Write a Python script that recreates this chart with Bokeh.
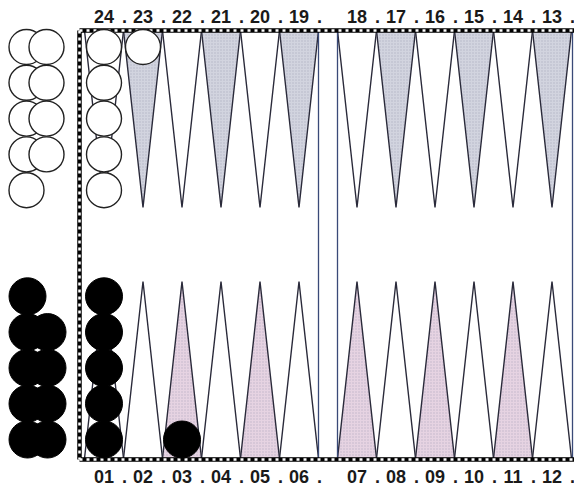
from bokeh.plotting import figure
from bokeh.models import Range1d
from bokeh.core.properties import value
from bokeh.embed import file_html
from bokeh.resources import INLINE

# ---- data ----
top_points = [24, 23, 22, 21, 20, 19, 18, 17, 16, 15, 14, 13]
bottom_points = [1, 2, 3, 4, 5, 6, 7, 8, 9, 10, 11, 12]
top_labels = ["24", "23", "22", "21", "20", "19", "18", "17", "16", "15", "14", "13"]
bottom_labels = ["01", "02", "03", "04", "05", "06", "07", "08", "09", "10", "11", "12"]
white_on_points = {24: 5, 23: 1}
black_on_points = {1: 5, 3: 1}
white_off_columns = [5, 4]
black_off_columns = [5, 4]
shaded_points = [23, 21, 19, 17, 15, 13, 3, 5, 7, 9, 11]

# ---- layout ----
W = 39.0
LEFT0 = 84.0
BAR0, BAR1 = 318.0, 337.0
TOP_BASE, TOP_APEX = 30.0, 207.0
BOT_BASE, BOT_APEX = 458.0, 281.0
R = 17.5
RB = 18.5
STEP = 35.8


def slot_left(i):
    return LEFT0 + i * W if i < 6 else BAR1 + (i - 6) * W


def point_slot(n):
    if n >= 13:
        return 24 - n
    return n - 1


def point_center(n):
    return slot_left(point_slot(n)) + W / 2


p = figure(width=574, height=486, x_range=Range1d(0, 574), y_range=Range1d(486, 0),
           output_backend="svg", toolbar_location=None, min_border=0,
           x_axis_type=None, y_axis_type=None)
p.grid.visible = False
p.outline_line_color = None
p.background_fill_color = "white"

# triangles
for row, base, apex, shade in ((top_points, TOP_BASE, TOP_APEX, "#d2d4df"),
                               (bottom_points, BOT_BASE, BOT_APEX, "#e6d3e2")):
    for shaded in (False, True):
        xs, ys = [], []
        for n in row:
            if (n in shaded_points) != shaded:
                continue
            l = slot_left(point_slot(n))
            xs.append([l, l + W / 2, l + W])
            ys.append([base, apex, base])
        if shaded:
            p.patches(xs, ys, fill_color=shade, line_color="#2a2a3a", line_width=1.4,
                      hatch_pattern="dot", hatch_scale=3, hatch_color="#8a8aa0", hatch_alpha=0.4)
        else:
            p.patches(xs, ys, fill_color="white", line_color="#2a2a3a", line_width=1.4)

# bar and right edge
p.segment(x0=[BAR0, BAR1, 572], y0=[TOP_BASE] * 3, x1=[BAR0, BAR1, 572], y1=[BOT_BASE + 1] * 3,
          line_color="#3a4a78", line_width=1.3)

# dashed border
bx0 = [79, 79, 79]
by0 = [TOP_BASE, TOP_BASE, BOT_BASE + 1]
bx1 = [79, 574, 574]
by1 = [BOT_BASE + 1, TOP_BASE, BOT_BASE + 1]
p.segment(x0=bx0, y0=by0, x1=bx1, y1=by1, line_color="black", line_width=4.5)
p.segment(x0=bx0, y0=by0, x1=bx1, y1=by1, line_color="white", line_width=2.5, line_dash="3 4")

# checkers
wx, wy, bx, by = [], [], [], []
for n, c in white_on_points.items():
    for k in range(c):
        wx.append(point_center(n)); wy.append(TOP_BASE + R - 1 + k * STEP)
for n, c in black_on_points.items():
    for k in range(c):
        bx.append(point_center(n)); by.append(BOT_BASE - RB - 0.5 - k * STEP)

white_off_x = [26.0, 46.0]
black_off_x = [27.0, 47.0]
for j, c in enumerate(white_off_columns):
    for k in range(c):
        wx.append(white_off_x[j]); wy.append(TOP_BASE + R - 1 + k * STEP)
for j, c in enumerate(black_off_columns):
    for k in range(c):
        bx.append(black_off_x[j]); by.append(BOT_BASE - RB - 0.5 - k * STEP)

p.circle(wx, wy, radius=R, fill_color="white", line_color="#222", line_width=1.4)
p.circle(bx, by, radius=RB, fill_color="black", line_color="black", line_width=1)

# labels
font = value("Liberation Sans")
kw = dict(text_font=font, text_font_style="bold", text_font_size="18px",
          text_align="center", text_baseline="middle", text_color="#1a1a1a")
tx = [point_center(n) for n in top_points]
dx = [slot_left(point_slot(n)) + W + 1 for n in top_points]
p.text(tx, [16] * 12, text=top_labels, **kw)
p.text(dx, [16] * 12, text=["."] * 12, **kw)
bxl = [point_center(n) for n in bottom_points]
bdx = [slot_left(point_slot(n)) + W + 1 for n in bottom_points]
p.text(bxl, [476] * 12, text=bottom_labels, **kw)
p.text(bdx, [476] * 12, text=["."] * 12, **kw)

open("out.html", "w").write(file_html(p, INLINE))
